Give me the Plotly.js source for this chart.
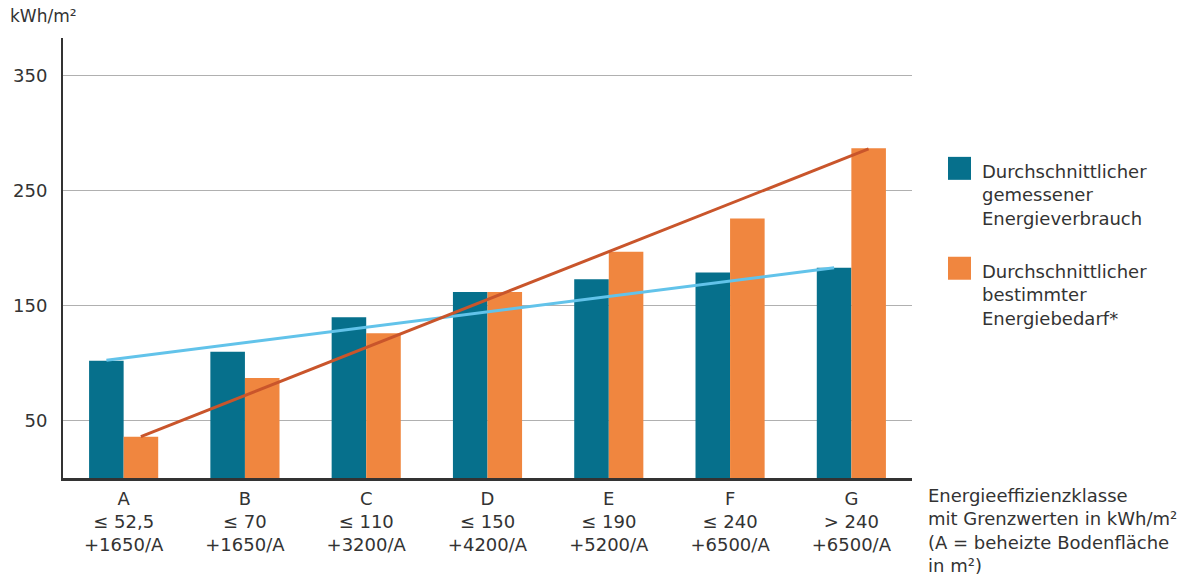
<!DOCTYPE html>
<html>
<head>
<meta charset="utf-8">
<script src="https://cdn.plot.ly/plotly-3.0.1.min.js"></script>
<style>html,body{margin:0;padding:0;background:#fff;}#chart{width:1184px;height:583px;}</style>
</head>
<body>
<div id="chart"></div>
<script>
// Energy efficiency classes (A–G) with limit values
const classes = ["A", "B", "C", "D", "E", "F", "G"];
const limits = ["≤ 52,5", "≤ 70", "≤ 110", "≤ 150", "≤ 190", "≤ 240", "> 240"];
const areaTerms = ["+1650/A", "+1650/A", "+3200/A", "+4200/A", "+5200/A", "+6500/A", "+6500/A"];

// Average measured energy consumption (kWh/m²)
const measured = [102, 110, 140, 162, 173, 179, 183];
// Average calculated energy demand (kWh/m²)
const calculated = [36, 87, 126, 162, 197, 226, 287];

// Trend line end points (first class, last class)
const measuredTrend = [102.5, 183];
const calculatedTrend = [36, 286.5];

const seriesNames = [
  "Durchschnittlicher<br>gemessener<br>Energieverbrauch",
  "Durchschnittlicher<br>bestimmter<br>Energiebedarf*"
];
const yTicks = [50, 150, 250, 350];

const teal = "#06708c";
const orange = "#f0863f";
const lightBlue = "#62c3ea";
const darkOrange = "#c9552b";
const textColor = "#333333";
const FONT = "DejaVu Sans, sans-serif";

const idx = classes.map((c, i) => i);
const tickText = classes.map((c, i) => c + "<br>" + limits[i] + "<br>" + areaTerms[i]);
const half = 0.142; // half of one bar width in category units
const ends = [0, classes.length - 1];

const traces = [
  {type: "bar", x: idx, y: measured, name: seriesNames[0], marker: {color: teal}, showlegend: false, hoverinfo: "y"},
  {type: "bar", x: idx, y: calculated, name: seriesNames[1], marker: {color: orange}, showlegend: false, hoverinfo: "y"},
  {type: "scatter", mode: "lines", x: ends.map(v => v - half), y: measuredTrend, line: {color: lightBlue, width: 3}, showlegend: false, hoverinfo: "skip"},
  {type: "scatter", mode: "lines", x: ends.map(v => v + half), y: calculatedTrend, line: {color: darkOrange, width: 3}, showlegend: false, hoverinfo: "skip"}
];

const legendItems = [
  {color: teal, text: seriesNames[0], y0: 157},
  {color: orange, text: seriesNames[1], y0: 257}
];
const H = 583, W = 1184;
const shapes = [];
const annotations = [];
legendItems.forEach(it => {
  shapes.push({type: "rect", xref: "paper", yref: "paper",
    x0: (948 - 63) / (912 - 63), x1: (971 - 63) / (912 - 63),
    y0: (478.5 - it.y0) / (478.5 - 38), y1: (478.5 - (it.y0 + 23)) / (478.5 - 38),
    fillcolor: it.color, line: {width: 0}});
  annotations.push({xref: "paper", yref: "paper", x: (980 - 63) / (912 - 63), y: (478.5 - (it.y0 + 2)) / (478.5 - 38),
    xanchor: "left", yanchor: "top", align: "left", showarrow: false,
    text: it.text, font: {family: FONT, size: 18, color: textColor}});
});
annotations.push({xref: "paper", yref: "paper", x: (926 - 63) / (912 - 63), y: (478.5 - 484) / (478.5 - 38),
  xanchor: "left", yanchor: "top", align: "left", showarrow: false,
  text: "Energieeffizienzklasse<br>mit Grenzwerten in kWh/m²<br>(A = beheizte Bodenfläche<br>in m²)",
  font: {family: FONT, size: 18, color: textColor}});
annotations.push({xref: "paper", yref: "paper", x: (8 - 63) / (912 - 63), y: (478.5 - 4) / (478.5 - 38),
  xanchor: "left", yanchor: "top", align: "left", showarrow: false,
  text: "kWh/m²", font: {family: FONT, size: 17, color: textColor}});

const layout = {
  width: W, height: H,
  margin: {l: 63, r: 272, t: 38, b: 104.5},
  paper_bgcolor: "#ffffff", plot_bgcolor: "#ffffff",
  barmode: "group", bargap: 0.43, bargroupgap: 0,
  showlegend: false,
  font: {family: FONT, size: 18, color: textColor},
  xaxis: {
    range: [-0.5, classes.length - 0.5],
    tickmode: "array", tickvals: idx, ticktext: tickText,
    showgrid: false, zeroline: false,
    showline: true, linecolor: "#333333", linewidth: 3,
    ticks: "", ticklabelstandoff: 2,
    tickfont: {family: FONT, size: 18, color: textColor}
  },
  yaxis: {
    range: [0, (478.5 - 38) / 1.15],
    tickmode: "array", tickvals: yTicks, ticktext: yTicks.map(String),
    showgrid: true, gridcolor: "#b0b0b0", gridwidth: 1,
    zeroline: false, showline: true, linecolor: "#333333", linewidth: 2,
    ticks: "", ticklabelstandoff: 10,
    tickfont: {family: FONT, size: 18, color: textColor}
  },
  shapes: shapes,
  annotations: annotations
};

Plotly.newPlot("chart", traces, layout, {displayModeBar: false, staticPlot: true});
</script>
</body>
</html>
